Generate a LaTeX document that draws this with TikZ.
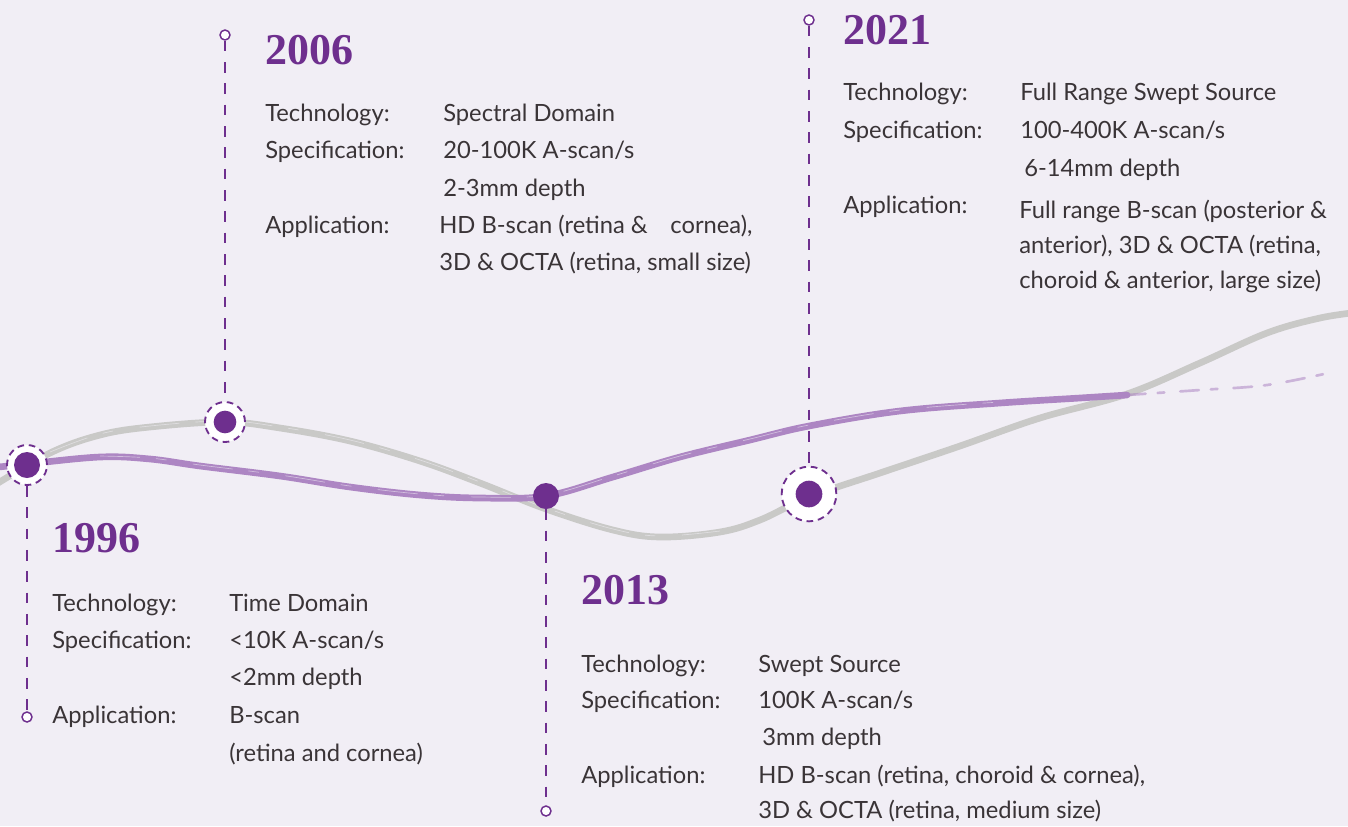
\documentclass[tikz,border=0pt]{standalone}
\usepackage{fontspec}
\setmainfont{Lato}
\newfontfamily\yearfont{Liberation Serif}
\definecolor{bg}{HTML}{F1EEF5}
\definecolor{plum}{HTML}{6E2F8E}
\definecolor{lilac}{HTML}{AD86C3}
\definecolor{ash}{HTML}{C9C9C7}
\definecolor{ink}{HTML}{3A3437}

\begin{document}
\begin{tikzpicture}[x=0.75pt,y=-0.75pt,
  yearlabel/.style={anchor=base west, inner sep=0pt,
    font=\yearfont\bfseries\fontsize{33}{33}\selectfont, text=plum},
  bodytext/.style={anchor=base west, inner sep=0pt,
    font=\fontsize{17.8}{21}\selectfont, text=ink},
  markring/.style={circle, fill=white, draw=plum, line width=1.4pt,
    dash pattern=on 5pt off 3.6pt, inner sep=0pt, minimum size=#1},
  markdot/.style={circle, fill=plum, inner sep=0pt, minimum size=#1},
  stemend/.style={circle, fill=white, draw=plum, line width=1.1pt,
    inner sep=0pt, minimum size=7.5pt},
  stemline/.style={draw=plum, line width=1.1pt, dash pattern=on 8pt off 8pt},
  brush/.style={line width=5pt, line cap=round, line join=round},
  streak/.style={draw=bg, line width=0.5pt, opacity=0.55,
    dash pattern=on 30pt off 12pt on 8pt off 20pt}]

% canvas
\fill[bg] (0,0) rectangle (1348,826);
\useasboundingbox (0,0) rectangle (1348,826);

% grey wave
\draw[brush, ash] plot[smooth, tension=0.6] coordinates {
  (-10,488) (50,453) (100,435) (150,427) (225,422) (280,428) (350,441)
  (420,461) (480,483) (546,509) (613,530) (660,537) (720,532) (760,520)
  (809,497) (880,473) (960,446) (1040,418) (1127,394) (1200,363)
  (1267,333) (1320,318) (1360,312)};
\draw[streak] plot[smooth, tension=0.6] coordinates {
  (50,452) (100,434) (150,426) (225,421) (280,427) (350,440) (420,460)
  (480,482) (546,508) (613,529) (660,536) (720,531)};

% purple wave
\draw[brush, lilac] plot[smooth, tension=0.6] coordinates {
  (-10,468) (27,464) (100,457) (150,459) (200,466) (280,476) (350,487)
  (420,495) (480,498) (546,496) (613,477) (680,457) (750,440) (809,426)
  (900,411) (1000,403) (1080,398) (1127,395)};
\draw[streak] plot[smooth, tension=0.6] coordinates {
  (100,456) (150,458) (200,465) (280,475) (350,486) (420,494) (480,497)
  (546,495) (613,476) (680,456) (750,439) (809,425) (900,410) (1000,402)};
\draw[lilac, line width=2pt, opacity=0.55, line cap=round,
      dash pattern=on 14pt off 9pt on 5pt off 12pt]
  plot[smooth, tension=0.6] coordinates {
  (1127,395) (1200,390) (1267,385) (1333,372)};

% markers on the waves
\node[markring=30pt] (r96) at (27,465) {};
\node[markdot=19.5pt] (d96) at (27,465) {};
\node[markring=30pt] (r06) at (225,422) {};
\node[markdot=17pt] (d06) at (225,422) {};
\node[markdot=19.5pt] (d13) at (546,496) {};
\node[markring=41pt] (r21) at (809,494) {};
\node[markdot=20pt] (d21) at (809,494) {};

% stem ends
\node[stemend] (e96) at (27,717) {};
\node[stemend] (e06) at (225,35) {};
\node[stemend] (e13) at (546,811) {};
\node[stemend] (e21) at (809,20) {};

% stems
\draw[stemline] (r96) -- (e96);
\draw[stemline] (e06) -- (r06);
\draw[stemline] (d13) -- (e13);
\draw[stemline] (e21) -- (r21);

% 1996
\node[yearlabel] (y96) at (52,552) {1996};
\node[bodytext] (t96) at (52,611) {Technology:};
\node[bodytext] (tv96) at (229,611) {Time Domain};
\node[bodytext] (s96) at (52,648) {Specification:};
\node[bodytext] (sv96) at (229,648) {<10K A-scan/s};
\node[bodytext] (sw96) at (229,685) {<2mm depth};
\node[bodytext] (a96) at (52,723) {Application:};
\node[bodytext] (av96) at (229,723) {B-scan};
\node[bodytext] (aw96) at (229,761) {(retina and cornea)};

% 2006
\node[yearlabel] (y06) at (265,64) {2006};
\node[bodytext] (t06) at (265,121) {Technology:};
\node[bodytext] (tv06) at (443,121) {Spectral Domain};
\node[bodytext] (s06) at (265,158) {Specification:};
\node[bodytext] (sv06) at (443,158) {20-100K A-scan/s};
\node[bodytext] (sw06) at (443,196) {2-3mm depth};
\node[bodytext] (a06) at (265,233) {Application:};
\node[bodytext] (av06) at (439,233) {HD B-scan (retina \&\hspace{0.95em}cornea),};
\node[bodytext] (aw06) at (439,270) {3D \& OCTA (retina, small size)};

% 2013
\node[yearlabel] (y13) at (581,604) {2013};
\node[bodytext] (t13) at (581,672) {Technology:};
\node[bodytext] (tv13) at (758,672) {Swept Source};
\node[bodytext] (s13) at (581,708) {Specification:};
\node[bodytext] (sv13) at (758,708) {100K A-scan/s};
\node[bodytext] (sw13) at (762,745) {3mm depth};
\node[bodytext] (a13) at (581,783) {Application:};
\node[bodytext] (av13) at (758,783) {HD B-scan (retina, choroid \& cornea),};
\node[bodytext] (aw13) at (758,818) {3D \& OCTA (retina, medium size)};

% 2021
\node[yearlabel] (y21) at (843,44) {2021};
\node[bodytext] (t21) at (843,100) {Technology:};
\node[bodytext] (tv21) at (1020,100) {Full Range Swept Source};
\node[bodytext] (s21) at (843,138) {Specification:};
\node[bodytext] (sv21) at (1020,138) {100-400K A-scan/s};
\node[bodytext] (sw21) at (1024,176) {6-14mm depth};
\node[bodytext] (a21) at (843,213) {Application:};
\node[bodytext] (av21) at (1019,218) {Full range B-scan (posterior \&};
\node[bodytext] (aw21) at (1019,253) {anterior), 3D \& OCTA (retina,};
\node[bodytext] (ax21) at (1019,288) {choroid \& anterior, large size)};
\end{tikzpicture}
\end{document}
